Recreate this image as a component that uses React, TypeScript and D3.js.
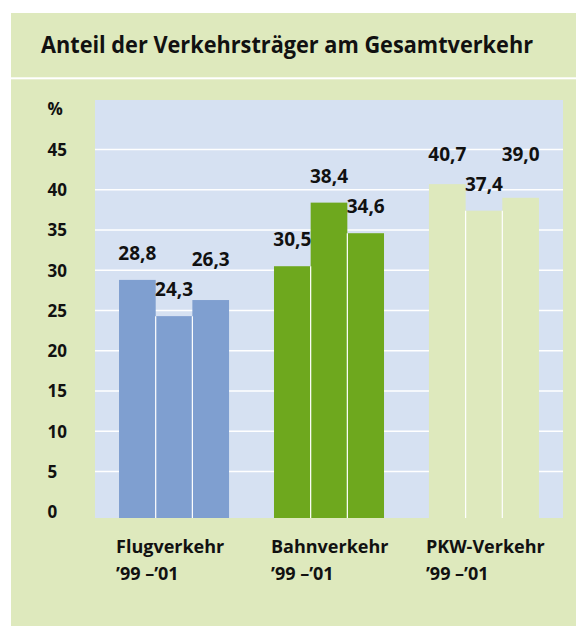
import React from "react";
import * as d3 from "d3";

const title = "Anteil der Verkehrsträger am Gesamtverkehr";
const categories = ["Flugverkehr", "Bahnverkehr", "PKW-Verkehr"];
const periodLabel = "’99 –’01";
const years = ["1999", "2000", "2001"];
const flugValues = [28.8, 24.3, 26.3];
const bahnValues = [30.5, 38.4, 34.6];
const pkwValues = [40.7, 37.4, 39.0];
const seriesValues = [flugValues, bahnValues, pkwValues];
const yTicks = [0, 5, 10, 15, 20, 25, 30, 35, 40, 45];
const unitLabel = "%";

const W = 576;
const H = 626;
const PANEL_GREEN = "#DEE9BD";
const PLOT_BLUE = "#D6E1F2";
const BAR_COLORS = ["#7F9FD0", "#6EA81E", "#DEE9BD"];
const TEXT = "#111111";
const FONT = "'Open Sans', 'Noto Sans', sans-serif";

const plot = { left: 95, right: 563, top: 100, bottom: 518 };

const fmt = (v: number) => v.toFixed(1).replace(".", ",");

export default function App() {
  const y = d3.scaleLinear().domain([0, 45]).range([511.75, 149.5]);
  const x = d3
    .scaleBand<string>()
    .domain(categories)
    .range([plot.left, plot.right])
    .paddingInner(0.29)
    .paddingOuter(0.155);
  const sub = d3
    .scaleBand<string>()
    .domain(years)
    .range([0, x.bandwidth()])
    .padding(0);

  // label placement with simple dodge
  const labelPositions = seriesValues.map((vals) => {
    const b = vals.map((v) => y(v) - 20);
    for (let iter = 0; iter < 3; iter++) {
      for (let i = 0; i < vals.length - 1; i++) {
        const d = Math.abs(b[i] - b[i + 1]);
        if (d < 30) {
          if (vals[i] >= vals[i + 1]) b[i] = b[i + 1] - 30;
          else b[i + 1] = b[i] - 30;
        }
      }
    }
    return b;
  });

  return (
    <svg
      width={W}
      height={H}
      style={{ position: "absolute", left: 0, top: 0 }}
      fontFamily={FONT}
    >
      <rect x={0} y={0} width={W} height={H} fill="#ffffff" />
      <rect x={11} y={13} width={W - 11} height={H - 13} fill={PANEL_GREEN} />
      <rect x={11} y={77.3} width={W - 11} height={2} fill="#ffffff" />
      <text
        x={41}
        y={52.5}
        fontSize={22.5}
        fontWeight={700}
        fill={TEXT}
        textLength={492}
        lengthAdjust="spacingAndGlyphs"
      >
        {title}
      </text>

      <rect
        x={plot.left}
        y={plot.top}
        width={plot.right - plot.left}
        height={plot.bottom - plot.top}
        fill={PLOT_BLUE}
      />
      {yTicks
        .filter((t) => t > 0)
        .map((t) => (
          <line
            key={"g" + t}
            x1={plot.left}
            x2={plot.right}
            y1={y(t)}
            y2={y(t)}
            stroke="#ffffff"
            strokeWidth={1.5}
          />
        ))}
      {yTicks.map((t) => (
        <text
          key={"t" + t}
          x={47.5}
          y={y(t) + 6.3}
          fontSize={17}
          fontWeight={700}
          fill={TEXT}
        >
          {t}
        </text>
      ))}
      <text x={47.5} y={y(50) + 5.5} fontSize={17} fontWeight={700} fill={TEXT}>
        {unitLabel}
      </text>

      {categories.map((c, gi) => {
        const x0 = x(c) as number;
        const vals = seriesValues[gi];
        return (
          <g key={c}>
            {vals.map((v, i) => (
              <rect
                key={"b" + i}
                x={x0 + (sub(years[i]) as number)}
                y={y(v)}
                width={sub.bandwidth()}
                height={plot.bottom - y(v)}
                fill={BAR_COLORS[gi]}
              />
            ))}
            {vals.slice(0, -1).map((v, i) => {
              const xs = x0 + (sub(years[i + 1]) as number);
              return (
                <line
                  key={"s" + i}
                  x1={xs}
                  x2={xs}
                  y1={y(Math.min(v, vals[i + 1]))}
                  y2={plot.bottom}
                  stroke="#ffffff"
                  strokeWidth={1.2}
                />
              );
            })}
            {vals.map((v, i) => (
              <text
                key={"l" + i}
                x={x0 + (sub(years[i]) as number) + sub.bandwidth() / 2}
                y={labelPositions[gi][i]}
                textAnchor="middle"
                fontSize={19}
                fontWeight={700}
                fill={TEXT}
              >
                {fmt(v)}
              </text>
            ))}
            <text
              x={x0 - 3}
              y={553.3}
              fontSize={18}
              fontWeight={700}
              fill={TEXT}
            >
              {c}
            </text>
            <text
              x={x0 - 3}
              y={580}
              fontSize={18}
              fontWeight={700}
              fill={TEXT}
            >
              {periodLabel}
            </text>
          </g>
        );
      })}
    </svg>
  );
}
